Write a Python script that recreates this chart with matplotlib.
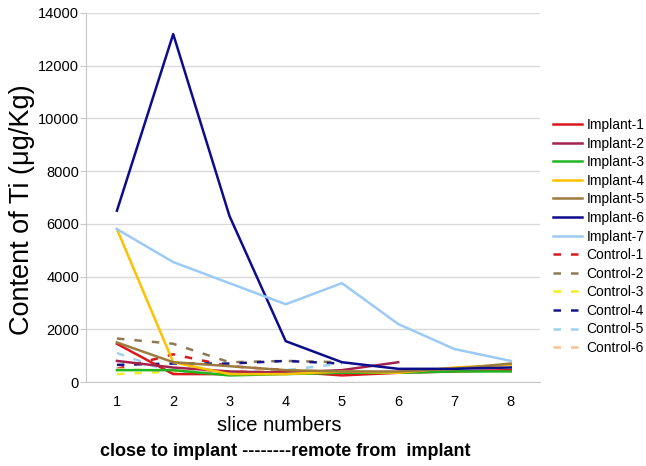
import matplotlib.pyplot as plt
from matplotlib.lines import Line2D

plt.rcParams['font.family'] = ['Liberation Sans', 'DejaVu Sans']

# slice positions
slices = [1, 2, 3, 4, 5, 6, 7, 8]

# Ti content (ug/Kg) per series
implant_1 = [1450, 300, 300, 400, 250, 350, 400, 450]
implant_2 = [800, 550, 400, 350, 450, 750]
implant_3 = [450, 450, 250, 300, 350, 350, 400, 400]
implant_4 = [5800, 750, 300, 300, 400, 350, 550, 650]
implant_5 = [1500, 750, 600, 450, 400, 400, 500, 700]
implant_6 = [6500, 13200, 6300, 1550, 750, 500, 500, 550]
implant_7 = [5800, 4550, 3750, 2950, 3750, 2200, 1250, 800]

control_1 = [500, 1050, 600, 450, 350]
control_2 = [1650, 1450, 750, 800, 750]
control_3 = [300, 400, 350, 400, 350]
control_4 = [650, 700, 700, 800, 700]
control_5 = [1100, 350, 350, 450, 700]
control_6 = [500, 400, 400, 450, 400]

implants = [
    ("Implant-1", implant_1, "#d8181c"),
    ("Implant-2", implant_2, "#a3234f"),
    ("Implant-3", implant_3, "#21b521"),
    ("Implant-4", implant_4, "#ffc000"),
    ("Implant-5", implant_5, "#9b7b3e"),
    ("Implant-6", implant_6, "#0c0c8c"),
    ("Implant-7", implant_7, "#9ccaf5"),
]
controls = [
    ("Control-1", control_1, "#d8181c"),
    ("Control-2", control_2, "#8c7a52"),
    ("Control-3", control_3, "#eeee22"),
    ("Control-4", control_4, "#16168a"),
    ("Control-5", control_5, "#9fd0f2"),
    ("Control-6", control_6, "#f8c28e"),
]

fig = plt.figure(figsize=(6.46, 4.66), dpi=100)
ax = fig.add_axes([86 / 646, 1 - 382 / 466, 454 / 646, 369 / 466])

handles = []
for name, vals, col in implants:
    ax.plot(slices[:len(vals)], vals, color=col, lw=1.8, zorder=3)
    handles.append(Line2D([], [], color=col, lw=1.8, label=name))
for name, vals, col in controls:
    ax.plot(slices[:len(vals)], vals, color=col, lw=1.8, ls=(0, (3, 4)), zorder=2)
    handles.append(Line2D([], [], color=col, lw=1.8, ls=(0, (3, 4)), label=name))

ax.set_xlim(0.45, 8.52)
ax.set_ylim(0, 14000)
ax.set_yticks(range(0, 14001, 2000))
ax.set_xticks(slices)
ax.grid(axis="y", color="#d9d9d9", lw=1)
ax.set_axisbelow(True)
for s in ["top", "right"]:
    ax.spines[s].set_visible(False)
for s in ["left", "bottom"]:
    ax.spines[s].set_color("#c8c8c8")
ax.tick_params(axis="both", length=4, color="#c8c8c8", labelsize=10.5, pad=1)
ax.tick_params(axis="x", length=0, pad=9)

ax.set_ylabel("Content of Ti (μg/Kg)", fontsize=19.5)
ax.yaxis.set_label_coords(-0.112, 0.466)
ax.set_xlabel("slice numbers", fontsize=14.5)
ax.xaxis.set_label_coords(0.425, -0.093)
fig.text(285 / 646, 1 - 452 / 466, "close to implant --------remote from  implant",
         fontsize=13, fontweight="bold", ha="center", va="center")

fig.legend(handles=handles, loc="upper left", bbox_to_anchor=(553 / 646, 1 - 118 / 466),
           frameon=False, fontsize=10, handlelength=2.1, handletextpad=0.3,
           labelspacing=0.33, borderaxespad=0, borderpad=0)

fig.savefig("out.png", dpi=100)
